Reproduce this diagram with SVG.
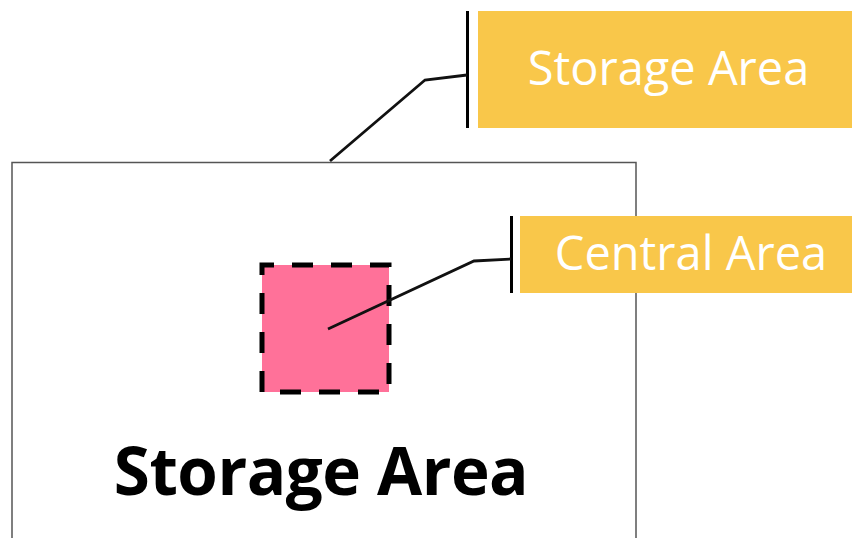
<svg xmlns="http://www.w3.org/2000/svg" width="852" height="538" viewBox="0 0 852 538">
<style>
.callout{fill:#F9C74A}
.ctext{font-family:"Open Sans","Noto Sans",sans-serif;font-weight:400;font-size:47px;fill:#fff}
.bar{stroke:#000;stroke-width:3;fill:none}
.conn{stroke:#111;stroke-width:2.8;fill:none;stroke-linejoin:miter}
</style>
<rect width="852" height="538" fill="#fff"/>
<g id="storage-area">
<rect x="12" y="162.5" width="624" height="400" fill="#fff" stroke="#555" stroke-width="1.5"/>
<text x="321" y="495" text-anchor="middle" font-family="'Open Sans','Noto Sans',sans-serif" font-weight="700" font-size="65.5" letter-spacing="-0.5" fill="#000">Storage Area</text>
</g>
<g id="central-area">
<rect x="262" y="265" width="127" height="127" fill="#FF7199" stroke="#000" stroke-width="5" stroke-dasharray="21 18" stroke-dashoffset="9"/>
</g>
<g id="callout-storage">
<rect class="callout" x="478" y="11" width="374" height="117"/>
<text class="ctext" x="668.5" y="85" text-anchor="middle">Storage Area</text>
</g>
<g id="callout-central">
<rect class="callout" x="520" y="216" width="332" height="77"/>
<text class="ctext" x="691" y="270" text-anchor="middle">Central Area</text>
</g>
<g id="connectors">
<line class="bar" x1="467.5" y1="11" x2="467.5" y2="128"/>
<polyline class="conn" points="330,161 425,80 467,75"/>
<line class="bar" x1="511.5" y1="216" x2="511.5" y2="293"/>
<polyline class="conn" points="328,329 474,261 511,259"/>
</g>
</svg>
